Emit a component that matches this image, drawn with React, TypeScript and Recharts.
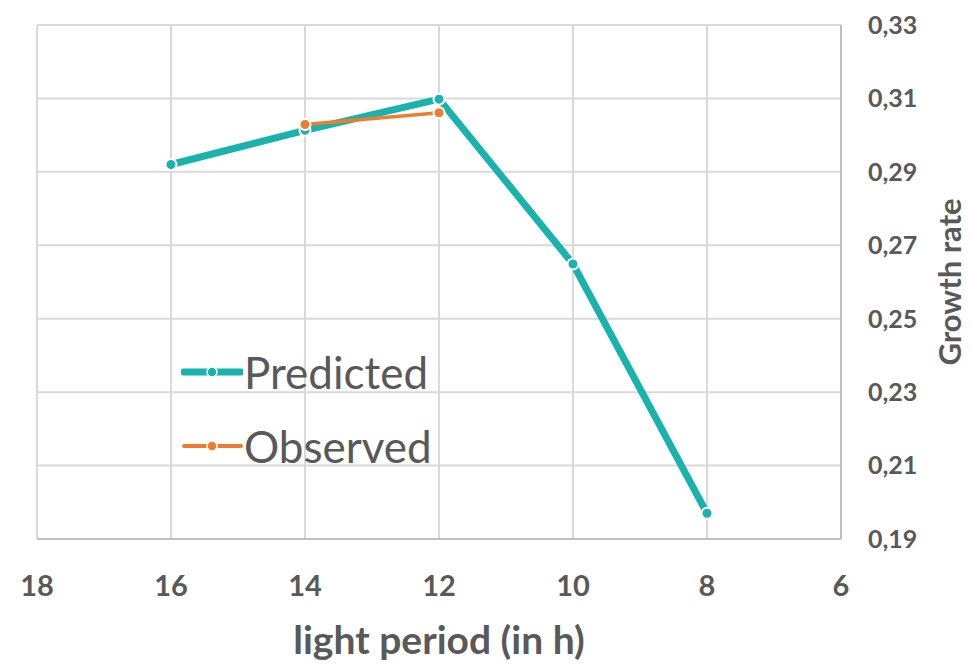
import React from 'react';
import { LineChart, Line, XAxis, YAxis, CartesianGrid, Label } from 'recharts';

const lightPeriods = [16, 14, 12, 10, 8];
const predicted = [0.292, 0.3013, 0.3098, 0.2649, 0.197];
const observed: (number | null)[] = [null, 0.3029, 0.3061, null, null];
const xTicks = [18, 16, 14, 12, 10, 8, 6];
const yTicks = [0.19, 0.21, 0.23, 0.25, 0.27, 0.29, 0.31, 0.33];
const seriesNames = ['Predicted', 'Observed'];

const data = lightPeriods.map((x, i) => ({ x, predicted: predicted[i], observed: observed[i] }));

const TEAL = '#19B2AC';
const ORANGE = '#ED7D31';
const GRAY = '#595959';
const FONT = 'Lato, "Open Sans", sans-serif';

const LegendBox = () => {
  const items = [
    { name: seriesNames[0], color: TEAL, w: 7 },
    { name: seriesNames[1], color: ORANGE, w: 4 },
  ];
  return (
    <div style={{ position: 'absolute', left: 181, top: 335, fontFamily: FONT }}>
      {items.map((it) => (
        <div key={it.name} style={{ display: 'flex', alignItems: 'center', height: 74 }}>
          <svg width={62} height={20} style={{ marginRight: 1 }}>
            <line x1={3} y1={10} x2={60} y2={10} stroke={it.color} strokeWidth={it.w} strokeLinecap="round" />
            <circle cx={31} cy={10} r={5} fill={it.color} stroke="#fff" strokeWidth={1.5} />
          </svg>
          <span style={{ fontSize: 44, color: GRAY, lineHeight: '74px' }}>{it.name}</span>
        </div>
      ))}
    </div>
  );
};

const YLabel = (props: any) => {
  const vb = props.viewBox || {};
  const x = vb.x + vb.width - 12;
  const y = vb.y + vb.height / 2;
  return (
    <text x={x} y={y} transform={`rotate(-90 ${x} ${y})`} textAnchor="middle" dominantBaseline="central"
      fill={GRAY} fontFamily={FONT} fontWeight="bold" fontSize={31}>
      Growth rate
    </text>
  );
};

export default function App() {
  return (
    <div style={{ position: 'absolute', left: 0, top: 0, width: 971, height: 664, background: '#fff' }}>
      <LineChart width={971} height={664} data={data} margin={{ top: 25, left: 37, right: 10, bottom: 0 }}>
        <CartesianGrid stroke="#d9d9d9" strokeWidth={2} />
        <XAxis dataKey="x" type="number" domain={[6, 18]} reversed ticks={xTicks} interval={0}
          axisLine={{ stroke: '#bfbfbf', strokeWidth: 2 }} tickLine={false} tickSize={0} tickMargin={36} height={125}
          tick={{ fill: GRAY, fontSize: 29, fontWeight: 'bold', fontFamily: FONT }}>
          <Label value="light period (in h)" position="insideBottom" offset={10}
            style={{ fill: GRAY, fontSize: 39, fontWeight: 'bold', fontFamily: FONT }} />
        </XAxis>
        <YAxis orientation="right" type="number" domain={[0.19, 0.33]} ticks={yTicks} interval={0}
          axisLine={{ stroke: '#bfbfbf', strokeWidth: 2 }} tickLine={false} tickSize={0} tickMargin={27} width={120}
          tickFormatter={(v: number) => v.toFixed(2).replace('.', ',')}
          tick={{ fill: GRAY, fontSize: 25, fontWeight: 'bold', fontFamily: FONT, textAnchor: 'start' }}>
          <Label content={YLabel} />
        </YAxis>
        <Line dataKey="predicted" stroke={TEAL} strokeWidth={7} isAnimationActive={false}
          dot={{ r: 5.5, fill: TEAL, stroke: '#fff', strokeWidth: 2 }} />
        <Line dataKey="observed" stroke={ORANGE} strokeWidth={3.5} isAnimationActive={false}
          dot={{ r: 5.5, fill: ORANGE, stroke: '#fff', strokeWidth: 2 }} />
      </LineChart>
      <LegendBox />
    </div>
  );
}
